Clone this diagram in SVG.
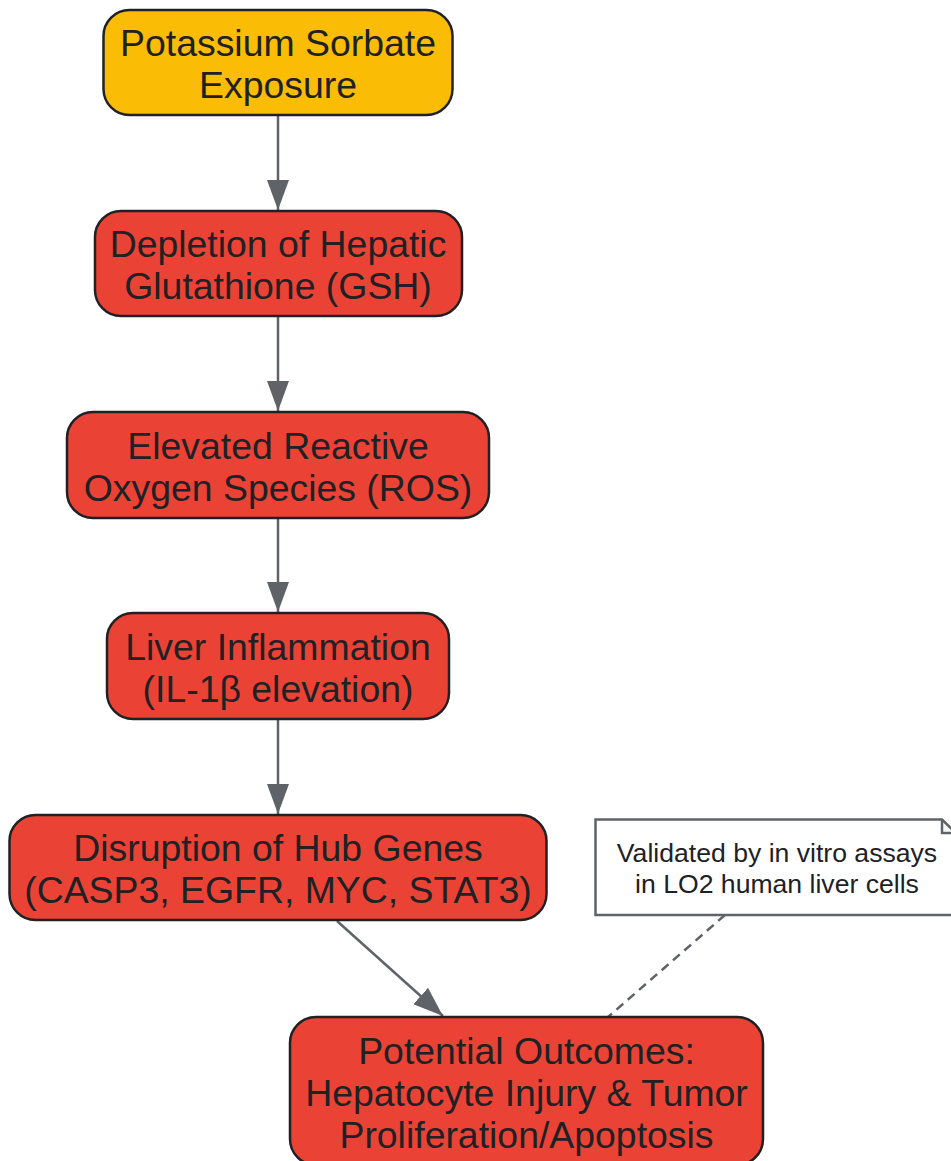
<svg xmlns="http://www.w3.org/2000/svg" width="951" height="1161" viewBox="0 0 951 1161">
<style>
.node rect{stroke:#202124;stroke-width:2.5}
.start rect{fill:#FBBC05}
.red rect{fill:#EA4335}
.node text{font-family:"Liberation Sans",Arial,sans-serif;font-size:37.4px;fill:#202124;text-anchor:middle}
.edge{stroke:#5F6368;stroke-width:2.5;fill:none}
.dash{stroke:#5F6368;stroke-width:2.5;fill:none;stroke-dasharray:9 6}
.note text{font-family:"Liberation Sans",Arial,sans-serif;font-size:26.6px;fill:#202124;text-anchor:middle}
</style>
<defs>
<marker id="arr" viewBox="0 0 30 22" refX="30" refY="11" markerWidth="30" markerHeight="22" markerUnits="userSpaceOnUse" orient="auto">
<path d="M0,0 L30,11 L0,22 Z" fill="#5F6368"/>
</marker>
</defs>
<rect width="951" height="1161" fill="#FFFFFF"/>
<g id="connectors">
<line class="edge" x1="278" y1="116" x2="278" y2="210" marker-end="url(#arr)"/>
<line class="edge" x1="278" y1="317" x2="278" y2="411" marker-end="url(#arr)"/>
<line class="edge" x1="278" y1="519" x2="278" y2="612" marker-end="url(#arr)"/>
<line class="edge" x1="278" y1="720" x2="278" y2="814" marker-end="url(#arr)"/>
<line class="edge" x1="337" y1="921" x2="443" y2="1016" marker-end="url(#arr)"/>
<line class="dash" x1="725" y1="915" x2="608" y2="1017"/>
</g>
<g id="n1" class="node start">
<rect x="103.5" y="10" width="349" height="105" rx="26"/>
<text x="278" y="56">Potassium Sorbate</text>
<text x="278" y="98">Exposure</text>
</g>
<g id="n2" class="node red">
<rect x="95" y="211" width="367" height="105" rx="26"/>
<text x="278" y="257">Depletion of Hepatic</text>
<text x="278" y="299">Glutathione (GSH)</text>
</g>
<g id="n3" class="node red">
<rect x="67" y="412" width="422" height="106" rx="26"/>
<text x="278" y="459">Elevated Reactive</text>
<text x="278" y="501">Oxygen Species (ROS)</text>
</g>
<g id="n4" class="node red">
<rect x="107" y="613" width="342" height="106" rx="26"/>
<text x="278" y="660">Liver Inflammation</text>
<text x="278" y="702">(IL-1β elevation)</text>
</g>
<g id="n5" class="node red">
<rect x="9.5" y="815" width="537" height="105" rx="26"/>
<text x="278" y="861">Disruption of Hub Genes</text>
<text x="278" y="903">(CASP3, EGFR, MYC, STAT3)</text>
</g>
<g id="n6" class="node red">
<rect x="290" y="1017" width="473" height="148" rx="26"/>
<text x="526.5" y="1064">Potential Outcomes:</text>
<text x="526.5" y="1106">Hepatocyte Injury &amp; Tumor</text>
<text x="526.5" y="1148">Proliferation/Apoptosis</text>
</g>
<g id="note" class="note">
<path d="M595.5,819.5 H942 L956,833 V915 H595.5 Z" fill="#FFFFFF" stroke="#5F6368" stroke-width="2.5"/>
<path d="M942,819.5 V833 H956" fill="none" stroke="#5F6368" stroke-width="2.5"/>
<text x="777" y="862">Validated by in vitro assays</text>
<text x="777" y="893">in LO2 human liver cells</text>
</g>
</svg>
